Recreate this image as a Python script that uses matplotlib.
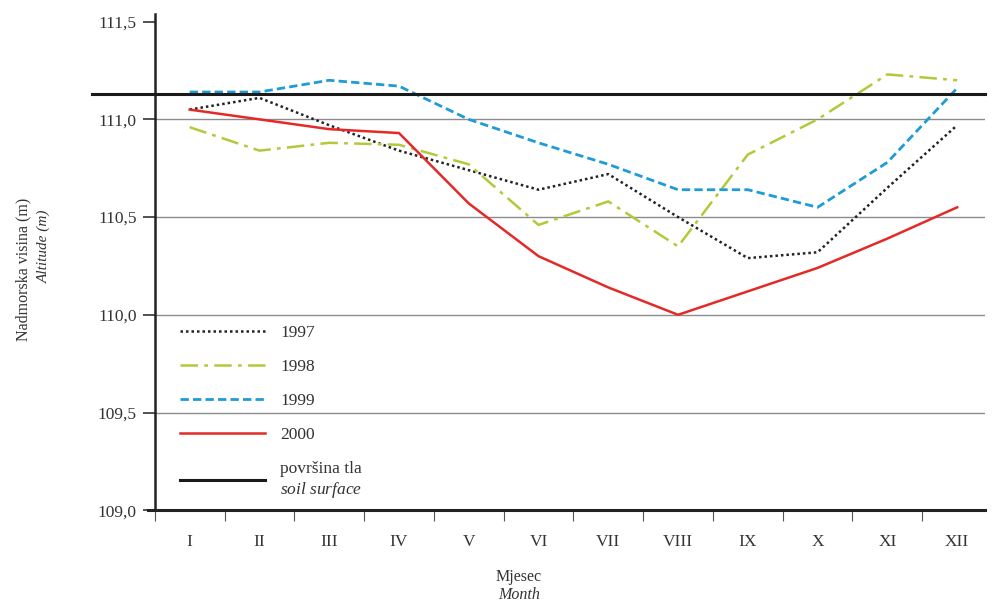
import matplotlib
matplotlib.use('Agg')
import matplotlib.pyplot as plt
import matplotlib.transforms as mtransforms
from matplotlib.lines import Line2D

months = ['I', 'II', 'III', 'IV', 'V', 'VI', 'VII', 'VIII', 'IX', 'X', 'XI', 'XII']
y1997 = [111.05, 111.11, 110.97, 110.84, 110.74, 110.64, 110.72, 110.50, 110.29, 110.32, 110.65, 110.97]
y1998 = [110.96, 110.84, 110.88, 110.87, 110.77, 110.46, 110.58, 110.35, 110.82, 111.00, 111.23, 111.20]
y1999 = [111.14, 111.14, 111.20, 111.17, 111.00, 110.88, 110.77, 110.64, 110.64, 110.55, 110.78, 111.16]
y2000 = [111.05, 111.00, 110.95, 110.93, 110.57, 110.30, 110.14, 110.00, 110.12, 110.24, 110.39, 110.55]
soil_surface = 111.13
yticks = [109.0, 109.5, 110.0, 110.5, 111.0, 111.5]

plt.rcParams['font.family'] = ['Liberation Serif', 'DejaVu Serif']
plt.rcParams['mathtext.fontset'] = 'custom'
plt.rcParams['mathtext.rm'] = 'Liberation Serif'
plt.rcParams['mathtext.it'] = 'Liberation Serif:italic'

fig = plt.figure(figsize=(9.92, 6.01), dpi=100)
ax = fig.add_axes([0.156, 0.151, 0.837, 0.826])

x = list(range(len(months)))

# interior gridlines only
for v in yticks[1:-1]:
    ax.axhline(v, color='#8c8c8c', lw=1.0, zorder=1)

style_1997 = dict(color='#222222', lw=1.8, linestyle=(0, (1, 1.2)))
style_1998 = dict(color='#b3c93a', lw=1.8, linestyle=(0, (7, 2.5, 1.5, 2.5)))
style_1999 = dict(color='#1f9bd7', lw=2.0, linestyle=(0, (3, 1.5)))
style_2000 = dict(color='#e42a26', lw=1.8, linestyle='-')
style_soil = dict(color='#1a1a1a', lw=2.2)

ax.plot(x, y1997, zorder=3, **style_1997)
ax.plot(x, y1998, zorder=3, **style_1998)
ax.plot(x, y1999, zorder=3, **style_1999)
ax.plot(x, y2000, zorder=3, **style_2000)

# soil surface line extends left past the axis
trans = mtransforms.blended_transform_factory(ax.transAxes, ax.transData)
ax.plot([-0.075, 1.0], [soil_surface, soil_surface], transform=trans,
        clip_on=False, zorder=4, **style_soil)

ax.set_xlim(-0.5, 11.4)
ax.set_ylim(109.0, 111.54)

ax.set_yticks(yticks)
ax.set_yticklabels([f'{v:.1f}'.replace('.', ',') for v in yticks])
ax.tick_params(axis='y', direction='out', length=9, width=1.2, pad=4, labelsize=12.5,
               colors='#333333')

# roman numerals centred under months, ticks between categories
ax.set_xticks(x)
ax.set_xticklabels(months)
ax.set_xticks([i + 0.5 for i in range(-1, 11)], minor=True)
ax.tick_params(axis='x', which='major', length=0, pad=17, labelsize=12.5, colors='#333333')
ax.tick_params(axis='x', which='minor', direction='out', length=8, width=0.8, color='#555555')

for side in ['top', 'right']:
    ax.spines[side].set_visible(False)
ax.spines['left'].set_linewidth(1.8)
ax.spines['bottom'].set_linewidth(2.2)
ax.spines['left'].set_color('#222222')
ax.spines['bottom'].set_color('#222222')
ax.spines['bottom'].set_bounds(-0.6, 11.4)

handles = [Line2D([], [], **s) for s in (style_1997, style_1998, style_1999, style_2000, style_soil)]
labels = ['1997', '1998', '1999', '2000', 'površina tla\n' + r'$\it{soil\ surface}$']
leg = ax.legend(handles, labels, loc='upper left', bbox_to_anchor=(0.012, 0.405),
                frameon=False, fontsize=12.5, handlelength=4.9, handletextpad=0.85,
                labelspacing=1.03, labelcolor='#333333')

fig.text(0.024, 0.552, 'Nadmorska visina (m)', rotation=90, ha='center', va='center',
         fontsize=11.5, color='#333333')
fig.text(0.044, 0.59, 'Altitude (m)', rotation=90, ha='center', va='center',
         fontsize=11, style='italic', color='#333333')
fig.text(0.523, 0.04, 'Mjesec', ha='center', va='center', fontsize=11.5, color='#333333')
fig.text(0.523, 0.01, 'Month', ha='center', va='center', fontsize=11.5, style='italic',
         color='#333333')

fig.savefig('out.png', dpi=100)
